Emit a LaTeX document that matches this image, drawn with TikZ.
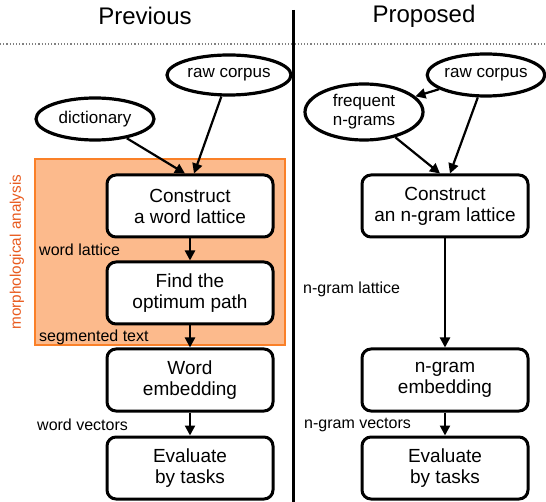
\documentclass[tikz,border=0pt]{standalone}
\usepackage{fontspec}
\setmainfont{Liberation Sans}
\usetikzlibrary{shapes.geometric,arrows.meta}

\definecolor{morphfill}{RGB}{252,186,140}
\definecolor{morphline}{RGB}{250,128,40}
\definecolor{morphtext}{RGB}{232,90,30}

\tikzset{
  process/.style={draw=black, line width=3pt, rounded corners=9pt, fill=white,
    minimum width=166pt, minimum height=62pt, align=center,
    font=\fontsize{19}{21}\selectfont},
  data/.style={draw=black, line width=3.2pt, ellipse, fill=white, align=center,
    inner sep=0pt, font=\fontsize{17}{19}\selectfont},
  flow/.style={-{Triangle[length=10pt,width=10pt]}, line width=2.2pt},
  lbl/.style={font=\fontsize{16}{18}\selectfont, anchor=west, inner sep=0pt},
  heading/.style={font=\fontsize{24}{26}\selectfont}
}

\begin{document}
\begin{tikzpicture}[x=1pt, y=-1pt]

	\useasboundingbox (0,0) rectangle (546,502);

	% headings and separators
	\node[heading] (prev) at (145, 16) {Previous};
	\node[heading] (prop) at (424, 16) {Proposed};
	\draw[gray, dotted, line width=1.2pt] (0, 44) -- (546, 44);
	\draw[line width=3pt] (293, 10) -- (293, 502);

	% morphological analysis area
	\fill[morphfill, draw=morphline, line width=1.4pt] (35, 159) rectangle (285, 345);
	\node[rotate=90, text=morphtext, font=\fontsize{15.3}{17}\selectfont] (morph) at (17, 252) {morphological analysis};

	% previous
	\node[data, minimum width=124pt, minimum height=40pt] (rawl) at (229, 75)  {raw corpus};
	\node[data, minimum width=118pt, minimum height=42pt] (dict) at (95, 119)  {dictionary};
	\node[process] (wlat) at (190, 206) {Construct\\a word lattice};
	\node[process] (opt)  at (190, 293) {Find the\\optimum path};
	\node[process] (wemb) at (190, 380) {Word\\embedding};
	\node[process] (weval) at (190, 468) {Evaluate\\by tasks};

	\node[lbl] (wlatl) at (39, 250) {word lattice};
	\node[lbl] (segl)  at (39, 337) {segmented text};
	\node[lbl] (wvecl) at (37, 425) {word vectors};

	\draw[flow] (dict) -- ([xshift=-5pt]wlat.north);
	\draw[flow] (rawl) -- ([xshift=4pt]wlat.north);
	\draw[flow] (wlat) -- (opt);
	\draw[flow] (opt) -- (wemb);
	\draw[flow] (wemb) -- (weval);

	% proposed
	\node[data, minimum width=112pt, minimum height=42pt] (rawr) at (486, 75)  {raw corpus};
	\node[data, minimum width=118pt, minimum height=56pt] (freq) at (364, 112) {frequent\\n-grams};
	\node[process] (nlat) at (445, 206) {Construct\\an n-gram lattice};
	\node[process] (nemb) at (445, 380) {n-gram\\embedding};
	\node[process] (neval) at (445, 468) {Evaluate\\by tasks};

	\node[lbl] (nlatl) at (303, 289) {n-gram lattice};
	\node[lbl] (nvecl) at (304, 425) {n-gram vectors};

	\draw[flow] (rawr) -- (freq);
	\draw[flow] (freq) -- ([xshift=-5pt]nlat.north);
	\draw[flow] (rawr) -- ([xshift=5pt]nlat.north);
	\draw[flow] (nlat) -- (nemb);
	\draw[flow] (nemb) -- (neval);

\end{tikzpicture}
\end{document}
